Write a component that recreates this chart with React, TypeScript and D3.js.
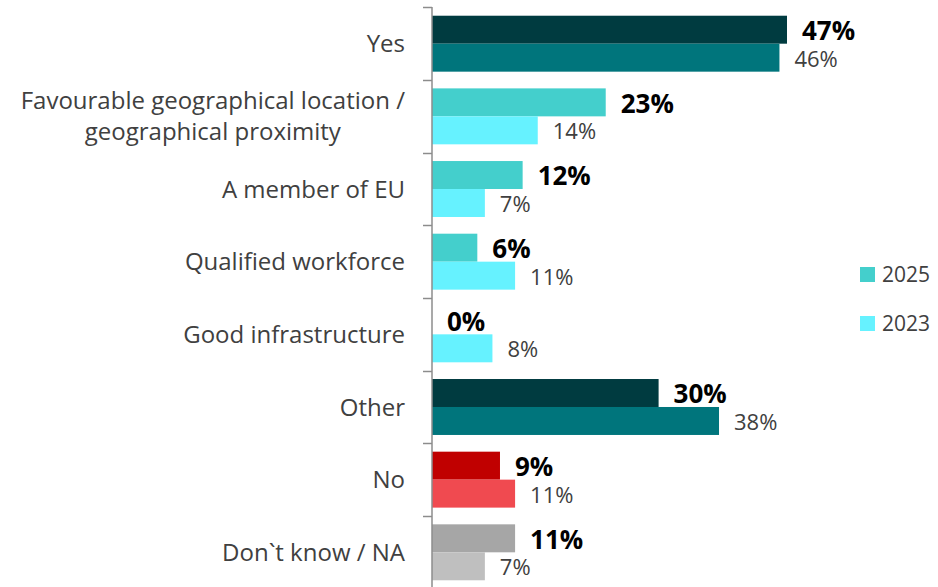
import React, { useEffect, useRef } from 'react';
import * as d3 from 'd3';

const categories = [
  'Yes',
  'Favourable geographical location / geographical proximity',
  'A member of EU',
  'Qualified workforce',
  'Good infrastructure',
  'Other',
  'No',
  'Don`t know / NA',
];
const labelLines = [
  ['Yes'],
  ['Favourable geographical location /', 'geographical proximity'],
  ['A member of EU'],
  ['Qualified workforce'],
  ['Good infrastructure'],
  ['Other'],
  ['No'],
  ['Don`t know / NA'],
];
const years = ['2025', '2023'];
const values2025 = [47, 23, 12, 6, 0, 30, 9, 11];
const values2023 = [46, 14, 7, 11, 8, 38, 11, 7];

// colour group per category: main answers, reasons, no, don't know
const groupOf = ['main', 'reason', 'reason', 'reason', 'reason', 'main', 'no', 'dk'];
const palette: Record<string, [string, string]> = {
  main: ['#003b40', '#00757c'],
  reason: ['#44cfcc', '#66f2ff'],
  no: ['#c00000', '#f04a50'],
  dk: ['#a6a6a6', '#bfbfbf'],
};

const FONT = '"Open Sans", "Liberation Sans", sans-serif';

const App = () => {
  const ref = useRef<SVGSVGElement>(null);

  useEffect(() => {
    const svg = d3.select(ref.current);
    svg.selectAll('*').remove();

    const width = 938;
    const height = 587;
    const axisX = 432;

    const x = d3.scaleLinear().domain([0, 47]).range([axisX, 787]);
    const y = d3
      .scaleBand()
      .domain(categories)
      .range([7, 589])
      .paddingInner(0.23)
      .paddingOuter(0.12);
    const sub = d3.scaleBand().domain(years).range([0, y.bandwidth()]);

    const rows = categories.map((c, i) => ({
      cat: c,
      i,
      vals: [values2025[i], values2023[i]],
    }));

    // bars
    const g = svg.append('g');
    rows.forEach((r) => {
      years.forEach((yr, k) => {
        const v = r.vals[k];
        const top = (y(r.cat) as number) + (sub(yr) as number);
        g.append('rect')
          .attr('x', axisX)
          .attr('y', top)
          .attr('width', x(v) - axisX)
          .attr('height', sub.bandwidth())
          .attr('fill', palette[groupOf[r.i]][k]);
        g.append('text')
          .attr('x', x(v) + 15)
          .attr('y', top + sub.bandwidth() / 2 + 1)
          .attr('dy', '0.36em')
          .style('font-family', FONT)
          .style('font-size', k === 0 ? '26px' : '22px')
          .style('font-weight', k === 0 ? 'bold' : 'normal')
          .style('fill', k === 0 ? '#000' : '#404040')
          .text(`${v}%`);
      });
    });

    // axis line and ticks at band edges
    const edge = (y.step() - y.bandwidth()) / 2;
    svg
      .append('line')
      .attr('x1', axisX)
      .attr('x2', axisX)
      .attr('y1', 7)
      .attr('y2', height)
      .style('stroke', '#8c8c8c')
      .style('stroke-width', 1.5);
    categories.forEach((c) => {
      const ty = Math.round((y(c) as number) - edge) + 0.5;
      svg
        .append('line')
        .attr('x1', axisX - 9)
        .attr('x2', axisX)
        .attr('y1', ty)
        .attr('y2', ty)
        .style('stroke', '#8c8c8c')
        .style('stroke-width', 1.5);
    });

    // category labels (multi-line ones centred within their block)
    labelLines.forEach((lines, i) => {
      const cy = (y(categories[i]) as number) + y.bandwidth() / 2;
      const t = svg
        .append('text')
        .style('font-family', FONT)
        .style('font-size', '24px')
        .style('fill', '#404040');
      const lh = 31;
      lines.forEach((ln, j) => {
        t.append('tspan')
          .attr('y', cy + (j - (lines.length - 1) / 2) * lh)
          .attr('dy', '0.36em')
          .text(ln);
      });
      const tspans = t.selectAll<SVGTSpanElement, unknown>('tspan');
      const maxW = d3.max(tspans.nodes(), (n) => n.getComputedTextLength()) || 0;
      if (lines.length > 1) {
        tspans.attr('x', 405 - maxW / 2).attr('text-anchor', 'middle');
      } else {
        tspans.attr('x', 405).attr('text-anchor', 'end');
      }
    });

    // legend
    const legend = svg.append('g');
    const legendY = d3.scalePoint().domain(years).range([274.5, 323.5]);
    years.forEach((yr) => {
      legend
        .append('rect')
        .attr('x', 860)
        .attr('y', (legendY(yr) as number) - 7.5)
        .attr('width', 15)
        .attr('height', 15)
        .attr('fill', palette.reason[years.indexOf(yr)]);
      legend
        .append('text')
        .attr('x', 882)
        .attr('y', legendY(yr) as number)
        .attr('dy', '0.36em')
        .style('font-family', FONT)
        .style('font-size', '21px')
        .style('fill', '#404040')
        .text(yr);
    });

    svg.attr('width', width).attr('height', height);
  }, []);

  return (
    <svg
      ref={ref}
      width={938}
      height={587}
      style={{ position: 'absolute', left: 0, top: 0, background: '#fff' }}
    />
  );
};

export default App;
